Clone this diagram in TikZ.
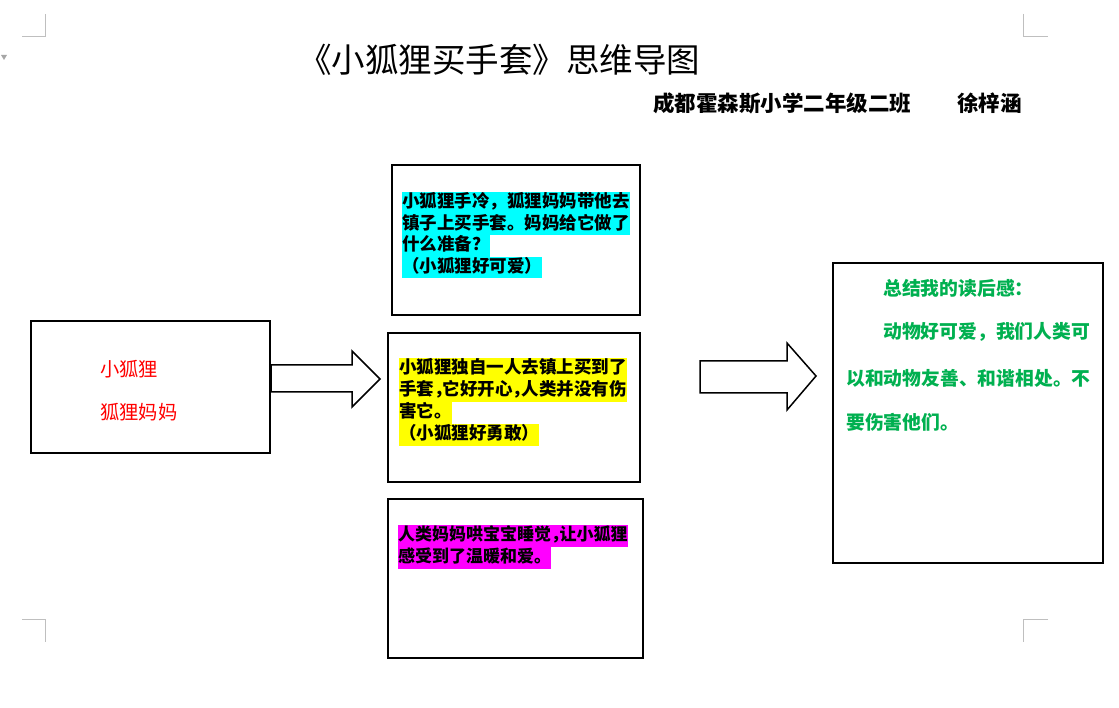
\documentclass[tikz,border=0pt]{standalone}
\usepackage{fontspec}
\setmainfont{Noto Sans CJK SC}
\definecolor{hlcyan}{RGB}{0,255,255}
\definecolor{hlyellow}{RGB}{255,255,0}
\definecolor{hlmag}{RGB}{255,0,255}
\definecolor{txtgreen}{RGB}{0,176,80}
\definecolor{marks}{RGB}{191,191,191}
\newcommand{\ncomma}{\makebox[0.5em][l]{，}}
\begin{document}
\begin{tikzpicture}[x=1pt,y=-1pt,
  box/.style={draw=black,line width=2pt,anchor=north west,inner sep=0pt},
  hl/.style={fill=#1,inner sep=0pt,anchor=north west,text height=15.5pt,text depth=6pt,font=\bfseries\fontsize{17.5}{21}\selectfont},
  hlm/.style={hl=#1,font=\bfseries\fontsize{17}{21}\selectfont},
  redtxt/.style={text=red,inner sep=0pt,anchor=west,font=\fontsize{19.3}{22}\selectfont},
  greentxt/.style={text=txtgreen,inner sep=0pt,anchor=west,font=\bfseries\fontsize{18.8}{22}\selectfont},
  blockarrow/.style={draw=black,line width=1.5pt,fill=white,line join=miter},
  cornermark/.style={draw=marks,line width=1pt}]
\useasboundingbox (0,0) rectangle (1119,708);
\fill[white] (0,0) rectangle (1119,708);
% corner marks
\draw[cornermark] (22,37) -- (45,37) -- (45,14);
\draw[cornermark] (1023,14) -- (1023,37) -- (1048,37);
\draw[cornermark] (22,619) -- (45,619) -- (45,642);
\draw[cornermark] (1048,619) -- (1023,619) -- (1023,642);
\fill[gray!70] (1,55) -- (7,55) -- (4,60) -- cycle;
% title
\node[inner sep=0pt,anchor=west,font=\fontsize{33.5}{36}\selectfont] (title) at (298,60) {《小狐狸买手套》思维导图};
\node[inner sep=0pt,anchor=west,font=\bfseries\fontsize{21.5}{24}\selectfont] (sub) at (653,103) {成都霍森斯小学二年级二班\hspace{46pt}徐梓涵};
% boxes
\node[box,minimum width=239pt,minimum height=132pt] (left) at (30,320) {};
\node[box,minimum width=248pt,minimum height=150pt] (b1) at (391,164) {};
\node[box,minimum width=252pt,minimum height=149pt] (b2) at (387,332) {};
\node[box,minimum width=255pt,minimum height=159pt] (b3) at (387,498) {};
\node[box,minimum width=270pt,minimum height=300pt] (right) at (832,262) {};
% left text
\node[redtxt] (l1) at (100,369) {小狐狸};
\node[redtxt] (l2) at (100,412) {狐狸妈妈};
% cyan text
\node[hl=hlcyan] (c1) at (402,192) {小狐狸手冷，狐狸妈妈带他去};
\node[hl=hlcyan] (c2) at (402,213.5) {镇子上买手套。妈妈给它做了};
\node[hl=hlcyan] (c3) at (402,235) {什么准备？};
\node[hl=hlcyan] (c4) at (402,256.5) {（小狐狸好可爱）};
% yellow text
\node[hl=hlyellow] (y1) at (399,358) {小狐狸独自一人去镇上买到了};
\node[hl=hlyellow] (y2) at (399,380) {手套\ncomma 它好开心\ncomma 人类并没有伤};
\node[hl=hlyellow] (y3) at (399,402) {害它。};
\node[hl=hlyellow] (y4) at (399,424) {（小狐狸好勇敢）};
% magenta text
\node[hlm=hlmag] (m1) at (398,525) {人类妈妈哄宝宝睡觉\ncomma 让小狐狸};
\node[hlm=hlmag] (m2) at (398,547) {感受到了温暖和爱。};
% green text
\node[greentxt] (g1) at (883,288) {总结我的读后感：};
\node[greentxt] (g2) at (883,332) {动物好可爱，我们人类可};
\node[greentxt] (g3) at (846,378) {以和动物友善、和谐相处。不};
\node[greentxt] (g4) at (846,422) {要伤害他们。};
% block arrows
\draw[blockarrow] (271,365) -- (352,365) -- (352,351) -- (380,379) -- (352,407) -- (352,392) -- (271,392) -- cycle;
\draw[blockarrow] (700,361) -- (787,361) -- (787,343) -- (816,376) -- (787,410) -- (787,393) -- (700,393) -- cycle;
\end{tikzpicture}
\end{document}
